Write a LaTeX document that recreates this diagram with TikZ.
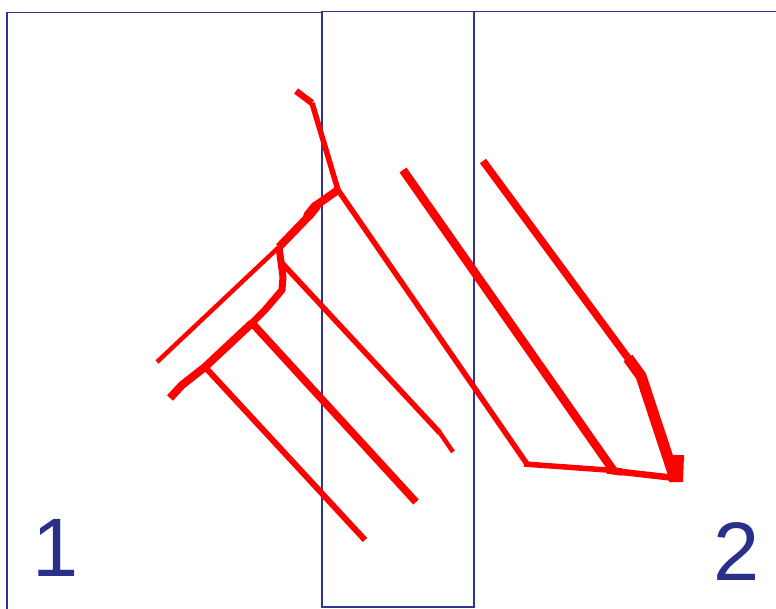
\documentclass[tikz,border=0pt]{standalone}
\usepackage{fontspec}
\setmainfont{Liberation Sans}
\definecolor{frameblue}{RGB}{46,52,146}
\definecolor{numblue}{RGB}{40,48,140}
\tikzset{
  frameline/.style={draw=frameblue,line width=1.8pt},
  redline/.style={draw=red,line join=round,line cap=butt},
  numlabel/.style={text=numblue,inner sep=0pt,font=\fontsize{83}{90}\selectfont}
}
\begin{document}
\begin{tikzpicture}[x=1pt,y=-1pt]
\useasboundingbox (0,0) rectangle (776,608);
\fill[white] (0,0) rectangle (776,608);
% frames
\draw[frameline] (7,612) |- (322,12.5);
\draw[frameline] (322,607) rectangle (474,11.5);
\draw[frameline] (474,11.5) -- (780,11.5);
% labels
\node[numlabel] (one) at (56,547.5) {1};
\node[numlabel] (two) at (736.5,552) {2};
% red network
\coordinate (top) at (296,91);
\coordinate (j1) at (338,190);
\coordinate (j2) at (279,247);
\coordinate (j3) at (252,323);
\coordinate (j4) at (205,367);
\draw[redline,line width=6.5pt] (top) -- (312,103);
\draw[redline,line width=5.5pt] (312,103) -- (j1);
\draw[redline,line width=5.5pt] (j1) -- (527,464);
\draw[redline,line width=8pt] (j1) -- (318,204) -- (307,218) -- (j2);
\draw[redline,line width=10pt,line cap=round] (316,206) -- (308,216);
\draw[redline,line width=4.5pt] (j2) -- (157,362);
\draw[redline,line width=7pt] (j2) -- (281,262) -- (283,277) -- (282,290) -- (265,310) -- (j3);
\draw[redline,line width=5.5pt] (281,262) -- (440,433);
\draw[redline,line width=4.5pt] (440,433) -- (453,452);
\draw[redline,line width=8pt] (j3) -- (j4) -- (182,385) -- (170,398);
\draw[redline,line width=7.5pt] (j3) -- (416,502);
\draw[redline,line width=6pt] (j4) -- (365,540);
\draw[redline,line width=8.5pt] (403,170) -- (613,470);
\draw[redline,line width=7.5pt] (483,161) -- (628,358);
\draw[redline,line width=11pt] (628,358) -- (641,376) -- (673,473);
\draw[redline,line width=5.5pt] (524,464) -- (607,470);
\draw[redline,line width=7.5pt] (607,470) -- (622,472);
\draw[redline,line width=6.5pt] (622,472) -- (675,478);
\fill[red] (670,455) -- (684,455) -- (683,482) -- (669,482) -- cycle;
\end{tikzpicture}
\end{document}
